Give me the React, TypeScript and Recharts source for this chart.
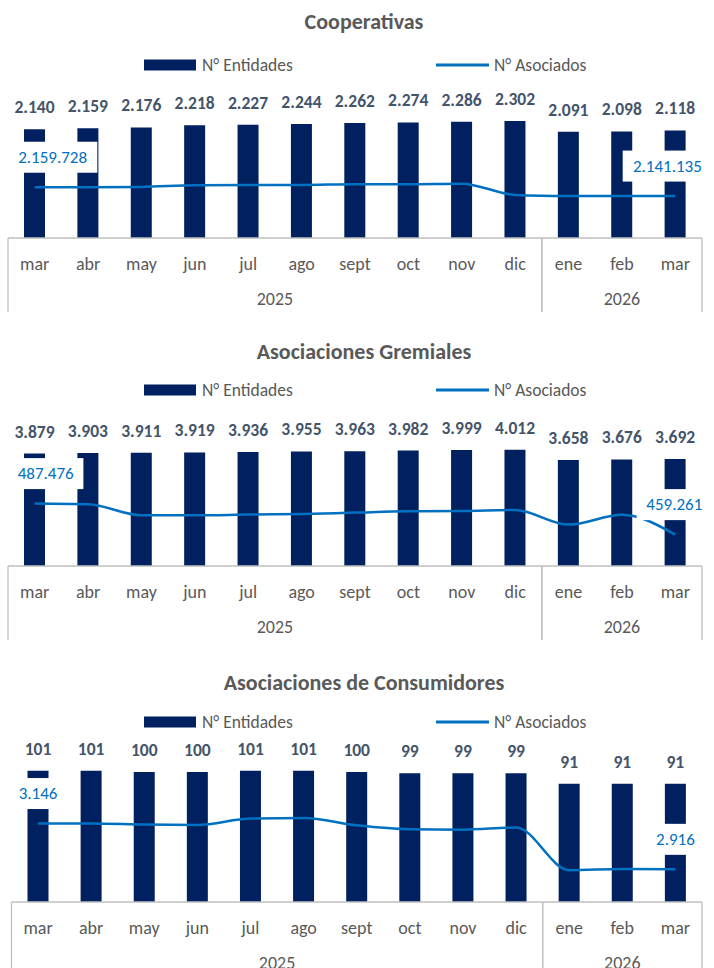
import { Bar, ComposedChart, LabelList, Legend, Line, XAxis, YAxis } from "recharts";

const months = ["mar", "abr", "may", "jun", "jul", "ago", "sept", "oct", "nov", "dic", "ene", "feb", "mar"];
const years = ["2025", "2025", "2025", "2025", "2025", "2025", "2025", "2025", "2025", "2025", "2026", "2026", "2026"];

const coopEntidades = [2140, 2159, 2176, 2218, 2227, 2244, 2262, 2274, 2286, 2302, 2091, 2098, 2118];
const coopAsociados = [2159728, 2159600, 2160400, 2163900, 2164500, 2164600, 2166000, 2166100, 2167300, 2143600, 2141400, 2141200, 2141135];

const gremEntidades = [3879, 3903, 3911, 3919, 3936, 3955, 3963, 3982, 3999, 4012, 3658, 3676, 3692];
const gremAsociados = [487476, 486840, 476830, 476830, 477470, 478000, 479290, 480480, 480700, 481650, 468400, 477300, 459261];

const consEntidades = [101, 101, 100, 100, 101, 101, 100, 99, 99, 99, 91, 91, 91];
const consAsociados = [3146, 3146, 3141, 3139, 3171, 3174, 3137, 3117, 3115, 3126, 2912, 2918, 2916];

const W = 714;
const FONT = "Carlito, Lato, sans-serif";
const NAVY = "#002060";
const BLUE = "#0070C0";
const GRID = "#bfbfbf";
const GREY = "#595959";
const AXIS_H = 74;

function fmt(n: number): string {
  return String(Math.round(n)).replace(/\B(?=(\d{3})+(?!\d))/g, ".");
}

// rough text width for the line labels (17px)
function textWidth(s: string): number {
  let w = 0;
  for (const c of s) w += c === "." ? 4 : 9.9;
  return w;
}

interface PanelProps {
  title: string;
  entidades: number[];
  asociados: number[];
  barMax: number;
  lineDomain: [number, number];
  plotTop: number;
  plotBottom: number;
  plotLeft: number;
  plotRight: number;
  titleY: number;
  legendY: number;
  height: number;
}

function Panel(p: PanelProps) {
  const data = months.map((m, i) => ({
    month: m,
    entidades: p.entidades[i],
    asociados: p.asociados[i],
  }));
  const band = (p.plotRight - p.plotLeft) / months.length;
  const last = months.length - 1;

  const renderTick = (t: any) => {
    const { x, y, index, payload } = t;
    const half = band / 2;
    const yr = years[index];
    const first = years.indexOf(yr);
    const lastIdx = years.lastIndexOf(yr);
    const mid = (first + lastIdx) / 2;
    const midIdx = Math.floor(mid);
    return (
      <g>
        <text x={x} y={y + 26} textAnchor="middle" dominantBaseline="central" fill={GREY} fontSize={18} fontFamily={FONT}>
          {payload.value}
        </text>
        {index === first && <line x1={x - half} x2={x - half} y1={y} y2={y + AXIS_H} stroke={GRID} strokeWidth={1.3} />}
        {index === lastIdx && <line x1={x + half} x2={x + half} y1={y} y2={y + AXIS_H} stroke={GRID} strokeWidth={1.3} />}
        {index === midIdx && (
          <text x={x + (mid - midIdx) * band} y={y + 61} textAnchor="middle" dominantBaseline="central" fill={GREY} fontSize={18} fontFamily={FONT}>
            {yr}
          </text>
        )}
      </g>
    );
  };

  const renderLineLabel = (l: any) => {
    const { x, y, value, index } = l;
    if (index !== 0 && index !== last) return null;
    const s = fmt(Number(value));
    const bw = textWidth(s) + 12;
    let left = x - bw / 2;
    if (left < 8) left = 8;
    if (left + bw > W - 2) left = W - 2 - bw;
    const cy = y - 30;
    return (
      <g>
        <rect x={left} y={cy - 15.5} width={bw} height={31} fill="#ffffff" />
        <text x={left + bw / 2} y={cy} textAnchor="middle" dominantBaseline="central" fill={BLUE} fontSize={17} fontFamily={FONT}>
          {s}
        </text>
      </g>
    );
  };

  const renderLegend = (lp: any) => {
    const items = lp.payload || [];
    return (
      <div style={{ position: "relative", width: W, height: 20, fontFamily: FONT, fontSize: 17.5, color: GREY }}>
        {items.map((it: any) => {
          const isBar = it.type === "rect";
          const x0 = isBar ? 144 : 436;
          return (
            <div key={it.value} style={{ position: "absolute", left: x0, top: 0, height: 20, display: "flex", alignItems: "center", whiteSpace: "nowrap" }}>
              <svg width={53} height={12} style={{ display: "block" }}>
                {isBar ? <rect x={0} y={0.5} width={52} height={11} fill={NAVY} /> : <line x1={0} x2={53} y1={6} y2={6} stroke={BLUE} strokeWidth={3} />}
              </svg>
              <span style={{ marginLeft: 5 }}>{it.value}</span>
            </div>
          );
        })}
      </div>
    );
  };

  return (
    <div style={{ position: "relative", width: W, height: p.height }}>
      <div
        style={{
          position: "absolute",
          left: 0,
          width: W + 14,
          top: p.titleY - 14,
          height: 28,
          lineHeight: "28px",
          textAlign: "center",
          fontFamily: FONT,
          fontWeight: 700,
          fontSize: 22,
          color: GREY,
        }}
      >
        {p.title}
      </div>
      <ComposedChart
        width={W}
        height={p.plotBottom + AXIS_H + 2}
        data={data}
        margin={{ top: p.plotTop, bottom: 2, left: p.plotLeft, right: W - p.plotRight }}
        barCategoryGap={0}
      >
        <XAxis
          dataKey="month"
          interval={0}
          height={AXIS_H}
          tickLine={false}
          tickSize={0}
          tickMargin={0}
          axisLine={{ stroke: GRID, strokeWidth: 1.3 }}
          tick={renderTick}
        />
        <YAxis yAxisId="left" hide domain={[0, p.barMax]} />
        <YAxis yAxisId="right" hide orientation="right" domain={p.lineDomain} allowDataOverflow />
        <Legend
          layout="horizontal"
          verticalAlign="middle"
          align="center"
          wrapperStyle={{ top: p.legendY - 10, left: 0, width: W }}
          content={renderLegend}
        />
        <Bar yAxisId="left" dataKey="entidades" name="N° Entidades" fill={NAVY} barSize={21} legendType="rect" isAnimationActive={false}>
          <LabelList
            dataKey="entidades"
            position="top"
            offset={16}
            formatter={(v: any) => fmt(Number(v))}
            fill="#44546A"
            fontSize={17.5}
            fontWeight={700}
            fontFamily={FONT}
          />
        </Bar>
        <Line
          yAxisId="right"
          dataKey="asociados"
          name="N° Asociados"
          type="monotone"
          stroke={BLUE}
          strokeWidth={2.5}
          dot={false}
          legendType="line"
          isAnimationActive={false}
        >
          <LabelList dataKey="asociados" content={renderLineLabel} />
        </Line>
      </ComposedChart>
    </div>
  );
}

export default function App() {
  return (
    <div style={{ position: "absolute", left: 0, top: 0, width: W, height: 968, background: "#fff", overflow: "hidden" }}>
      <Panel
        title="Cooperativas"
        entidades={coopEntidades}
        asociados={coopAsociados}
        barMax={2500}
        lineDomain={[2053000, 2320000]}
        plotTop={111}
        plotBottom={238}
        plotLeft={8}
        plotRight={702}
        titleY={22}
        legendY={65}
        height={330}
      />
      <Panel
        title="Asociaciones Gremiales"
        entidades={gremEntidades}
        asociados={gremAsociados}
        barMax={4500}
        lineDomain={[430700, 549360]}
        plotTop={105.6}
        plotBottom={236}
        plotLeft={8}
        plotRight={702}
        titleY={22}
        legendY={60}
        height={331}
      />
      <Panel
        title="Asociaciones de Consumidores"
        entidades={consEntidades}
        asociados={consAsociados}
        barMax={110}
        lineDomain={[2752, 3470]}
        plotTop={98}
        plotBottom={241}
        plotLeft={11.5}
        plotRight={702}
        titleY={22}
        legendY={61}
        height={307}
      />
    </div>
  );
}
